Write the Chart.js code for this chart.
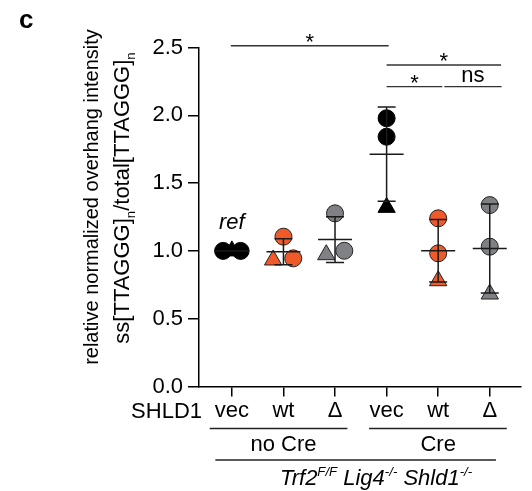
<!DOCTYPE html>
<html>
<head>
<meta charset="utf-8">
<script src="https://cdn.jsdelivr.net/npm/chart.js@4.4.0/dist/chart.umd.min.js"></script>
<style>
  html, body { margin: 0; padding: 0; background: #fff; }
  #wrap { width: 532px; height: 491px; position: relative; }
</style>
</head>
<body>
<div id="wrap"><canvas id="chart"></canvas></div>
<script>
// categories (SHLD1 construct) and conditions
const shld1 = ['vec', 'wt', '\u0394', 'vec', 'wt', '\u0394'];
const conditions = ['no Cre', 'Cre'];

// replicate values per group (rep1 circle, rep2 circle, rep3 triangle)
const vecNoCre = [1.00, 1.00, 1.00];
const wtNoCre = [1.105, 0.945, 0.933];
const deltaNoCre = [1.277, 1.001, 0.972];
const vecCre = [1.978, 1.842, 1.321];
const wtCre = [1.240, 0.982, 0.780];
const deltaCre = [1.338, 1.031, 0.682];
const groups = [vecNoCre, wtNoCre, deltaNoCre, vecCre, wtCre, deltaCre];

// horizontal scatter of the replicates inside a group (category units)
const jitter = [
  [-0.17, 0.17, 0],
  [0, 0.19, -0.2],
  [0, 0.18, -0.17],
  [0, 0, 0],
  [0, 0, 0],
  [0, 0, 0]
];
const shapes = ['circle', 'circle', 'triangle'];

const yTicks = [0, 0.5, 1.0, 1.5, 2.0, 2.5];

// significance brackets: [from, to, y level, label]
const brackets = [
  [-0.02, 3.04, 2.513, '*'],
  [3.0, 5.22, 2.371, '*'],
  [3.0, 4.08, 2.211, '*'],
  [4.12, 5.23, 2.211, 'ns']
];

const fills = ['#000000', '#f05a28', '#808184'];
const F = '"Liberation Sans", Arial, Helvetica, sans-serif';

const datasets = groups.map((vals, g) => ({
  data: vals.map((v, i) => ({ x: g + jitter[g][i], y: v })),
  backgroundColor: fills[g % 3],
  borderColor: g % 3 === 0 ? '#000' : '#222',
  borderWidth: 1,
  pointStyle: ctx => shapes[ctx.dataIndex],
  pointRadius: ctx => shapes[ctx.dataIndex] === 'triangle' ? 10 : 8.5,
  showLine: false
}));

function rich(ctx, parts, x, y, size, style) {
  let w = 0;
  const fontOf = p => style + ' ' + (p.s ? size * 0.6 : size) + 'px ' + F;
  parts.forEach(p => { ctx.font = fontOf(p); w += ctx.measureText(p.t).width; });
  let cx = x - w / 2;
  ctx.textAlign = 'left';
  ctx.textBaseline = 'alphabetic';
  parts.forEach(p => {
    ctx.font = fontOf(p);
    let dy = 0;
    if (p.s === 'sub') dy = size * 0.25;
    if (p.s === 'sup') dy = -size * 0.4;
    ctx.fillText(p.t, cx, y + dy);
    cx += ctx.measureText(p.t).width;
  });
}

const extras = {
  id: 'extras',
  afterDraw(chart) {
    const ctx = chart.ctx;
    const xs = chart.scales.x, ys = chart.scales.y;
    ctx.save();
    ctx.fillStyle = '#000';
    ctx.strokeStyle = '#1a1a1a';
    ctx.lineWidth = 1.5;

    // mean +/- SD
    groups.forEach((vals, g) => {
      const m = vals.reduce((a, b) => a + b, 0) / vals.length;
      const sd = Math.sqrt(vals.reduce((a, b) => a + (b - m) * (b - m), 0) / (vals.length - 1));
      const x = xs.getPixelForValue(g);
      const yt = ys.getPixelForValue(m + sd), yb = ys.getPixelForValue(m - sd), ym = ys.getPixelForValue(m);
      ctx.beginPath();
      ctx.moveTo(x, yt); ctx.lineTo(x, yb);
      ctx.moveTo(x - 9, yt); ctx.lineTo(x + 9, yt);
      ctx.moveTo(x - 9, yb); ctx.lineTo(x + 9, yb);
      ctx.moveTo(x - 17, ym); ctx.lineTo(x + 17, ym);
      ctx.stroke();
    });

    // brackets
    ctx.strokeStyle = '#333';
    ctx.lineWidth = 1.3;
    brackets.forEach(b => {
      const x1 = xs.getPixelForValue(b[0]), x2 = xs.getPixelForValue(b[1]);
      const y = ys.getPixelForValue(b[2]);
      ctx.beginPath(); ctx.moveTo(x1, y); ctx.lineTo(x2, y); ctx.stroke();
      ctx.font = '22px ' + F;
      ctx.textAlign = 'center';
      ctx.textBaseline = 'alphabetic';
      ctx.fillText(b[3], (x1 + x2) / 2, b[3] === 'ns' ? y - 5 : y + 3);
    });

    // ref label
    ctx.font = 'italic 22px ' + F;
    ctx.textAlign = 'center';
    ctx.fillText('ref', xs.getPixelForValue(0), 229);

    // panel letter
    ctx.font = 'bold 26px ' + F;
    ctx.textAlign = 'left';
    ctx.fillText('c', 19, 27.5);

    // y title
    ctx.save();
    ctx.translate(98, 197);
    ctx.rotate(-Math.PI / 2);
    ctx.font = '20px ' + F;
    ctx.textAlign = 'center';
    ctx.fillText('relative normalized overhang intensity', 0, 0);
    ctx.restore();
    ctx.save();
    ctx.translate(129, 198);
    ctx.rotate(-Math.PI / 2);
    rich(ctx, [{ t: 'ss[TTAGGG]' }, { t: 'n', s: 'sub' }, { t: '/total[TTAGGG]' }, { t: 'n', s: 'sub' }], 0, 0, 22, '');
    ctx.restore();

    // x grouping
    ctx.fillStyle = '#000';
    ctx.font = '22px ' + F;
    ctx.textAlign = 'right';
    ctx.fillText('SHLD1', 202, 417.5);
    ctx.strokeStyle = '#222';
    ctx.lineWidth = 1.3;
    const line = (a, b, y) => {
      ctx.beginPath();
      ctx.moveTo(xs.getPixelForValue(a), y);
      ctx.lineTo(xs.getPixelForValue(b), y);
      ctx.stroke();
    };
    line(-0.43, 2.24, 428.5);
    line(2.66, 5.33, 428.5);
    line(-0.32, 5.12, 460);
    ctx.textAlign = 'center';
    ctx.fillText(conditions[0], xs.getPixelForValue(1), 451);
    ctx.fillText(conditions[1], xs.getPixelForValue(4), 451);
    rich(ctx, [{ t: 'Trf2' }, { t: 'F/F', s: 'sup' }, { t: ' Lig4' }, { t: '-/-', s: 'sup' }, { t: ' Shld1' }, { t: '-/-', s: 'sup' }],
      376, 485, 22, 'italic');
    ctx.restore();
  }
};

new Chart(document.getElementById('chart'), {
  type: 'scatter',
  data: { datasets: datasets },
  options: {
    responsive: true,
    maintainAspectRatio: false,
    animation: false,
    layout: { padding: { left: 0, right: 0, top: 47.5, bottom: 0 } },
    plugins: { legend: { display: false }, tooltip: { enabled: false } },
    scales: {
      x: {
        type: 'linear',
        min: -0.6375,
        max: 5.606,
        afterFit: s => { s.height = 104.5; },
        border: { color: '#000', width: 1.5 },
        grid: { drawOnChartArea: false, tickLength: 10, color: '#000', lineWidth: 1.5 },
        ticks: {
          stepSize: 1,
          includeBounds: false,
          autoSkip: false,
          maxRotation: 0,
          padding: 1,
          color: '#000',
          font: { family: F, size: 22 },
          callback: v => shld1[v]
        }
      },
      y: {
        min: 0,
        max: 2.5,
        afterFit: s => { s.width = 199; },
        afterBuildTicks: s => { s.ticks = yTicks.map(v => ({ value: v })); },
        border: { color: '#000', width: 1.5 },
        grid: { drawOnChartArea: false, tickLength: 11, color: '#000', lineWidth: 1.5 },
        ticks: {
          padding: 5,
          color: '#000',
          font: { family: F, size: 22 },
          callback: v => v.toFixed(1)
        }
      }
    }
  },
  plugins: [extras]
});
</script>
</body>
</html>
